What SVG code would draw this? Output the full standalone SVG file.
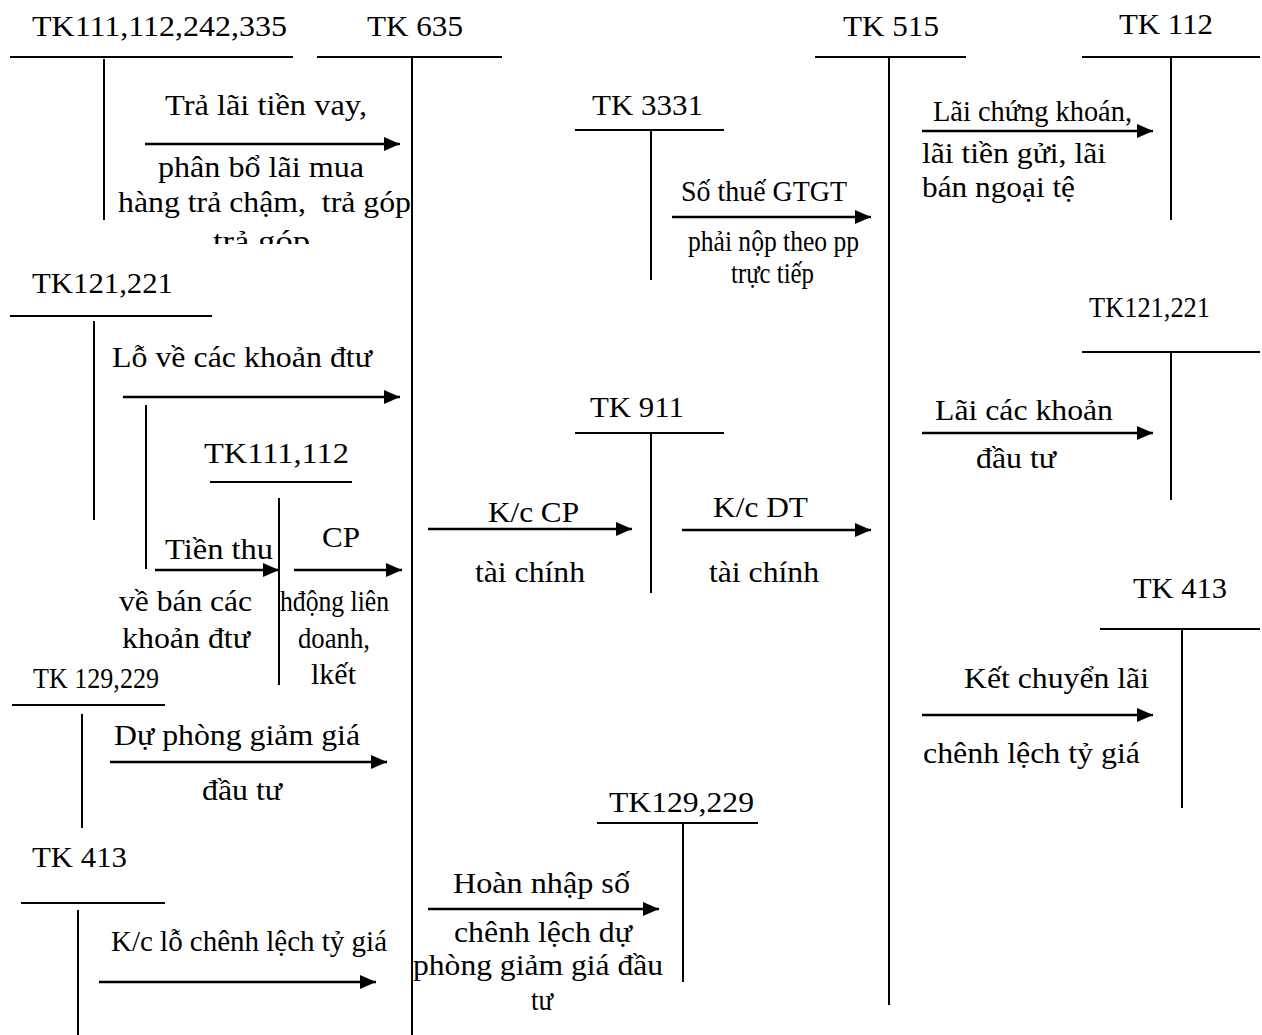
<svg xmlns="http://www.w3.org/2000/svg" width="1262" height="1035" viewBox="0 0 1262 1035">
<style>
text{font-family:"Liberation Serif","Times New Roman",serif;font-size:29px;fill:#000}
.t line{stroke:#000;stroke-width:2}
.c line{stroke:#000;stroke-width:2.6}
</style>
<defs>
<marker id="ah" markerUnits="userSpaceOnUse" markerWidth="16" markerHeight="14" refX="16" refY="7" orient="auto">
<path d="M0,0 L16,7 L0,14 z" fill="#000"/>
</marker>
<clipPath id="clip1"><rect x="100" y="0" width="400" height="244"/></clipPath>
</defs>
<rect width="1262" height="1035" fill="#fff"/>

<g id="tk111-112-242-335" class="t">
<text x="32" y="36" textLength="255" lengthAdjust="spacingAndGlyphs">TK111,112,242,335</text>
<line x1="10" y1="57" x2="293" y2="57"/>
<line x1="104" y1="59" x2="104" y2="220"/>
</g>
<g id="tk635" class="t">
<text x="367" y="36" textLength="96" lengthAdjust="spacingAndGlyphs">TK 635</text>
<line x1="317" y1="57" x2="502" y2="57"/>
<line x1="412" y1="58" x2="412" y2="1035"/>
</g>
<g id="tk3331" class="t">
<text x="592" y="115" textLength="111" lengthAdjust="spacingAndGlyphs">TK 3331</text>
<line x1="575" y1="130" x2="724" y2="130"/>
<line x1="651" y1="131" x2="651" y2="280"/>
</g>
<g id="tk515" class="t">
<text x="843" y="36" textLength="96" lengthAdjust="spacingAndGlyphs">TK 515</text>
<line x1="815" y1="57" x2="966" y2="57"/>
<line x1="889" y1="58" x2="889" y2="1005"/>
</g>
<g id="tk112-right" class="t">
<text x="1119" y="34" textLength="94" lengthAdjust="spacingAndGlyphs">TK 112</text>
<line x1="1082" y1="57" x2="1260" y2="57"/>
<line x1="1171" y1="58" x2="1171" y2="220"/>
</g>
<g id="tk121-221-left" class="t">
<text x="32" y="293" textLength="141" lengthAdjust="spacingAndGlyphs">TK121,221</text>
<line x1="10" y1="316" x2="212" y2="316"/>
<line x1="94" y1="321" x2="94" y2="520"/>
<line x1="146" y1="405" x2="146" y2="569"/>
</g>
<g id="tk111-112-mid" class="t">
<text x="204" y="463" textLength="145" lengthAdjust="spacingAndGlyphs">TK111,112</text>
<line x1="210" y1="482" x2="352" y2="482"/>
<line x1="279" y1="498" x2="279" y2="685"/>
</g>
<g id="tk911" class="t">
<text x="590" y="417" textLength="94" lengthAdjust="spacingAndGlyphs">TK 911</text>
<line x1="575" y1="433" x2="724" y2="433"/>
<line x1="651" y1="434" x2="651" y2="593"/>
</g>
<g id="tk121-221-right" class="t">
<text x="1089" y="317" textLength="121" lengthAdjust="spacingAndGlyphs">TK121,221</text>
<line x1="1082" y1="352" x2="1260" y2="352"/>
<line x1="1171" y1="353" x2="1171" y2="500"/>
</g>
<g id="tk413-right" class="t">
<text x="1133" y="598" textLength="94" lengthAdjust="spacingAndGlyphs">TK 413</text>
<line x1="1100" y1="629" x2="1260" y2="629"/>
<line x1="1182" y1="630" x2="1182" y2="808"/>
</g>
<g id="tk129-229-left" class="t">
<text x="33" y="688" textLength="126" lengthAdjust="spacingAndGlyphs">TK 129,229</text>
<line x1="12" y1="705" x2="165" y2="705"/>
<line x1="82" y1="714" x2="82" y2="828"/>
</g>
<g id="tk413-left" class="t">
<text x="32" y="867" textLength="95" lengthAdjust="spacingAndGlyphs">TK 413</text>
<line x1="21" y1="903" x2="165" y2="903"/>
<line x1="78" y1="910" x2="78" y2="1035"/>
</g>
<g id="tk129-229-mid" class="t">
<text x="609" y="812" textLength="145" lengthAdjust="spacingAndGlyphs">TK129,229</text>
<line x1="597" y1="823" x2="758" y2="823"/>
<line x1="683" y1="824" x2="683" y2="982"/>
</g>

<g id="connectors" class="c">
<line x1="145" y1="144" x2="400" y2="144" marker-end="url(#ah)"/>
<line x1="672" y1="217" x2="871" y2="217" marker-end="url(#ah)"/>
<line x1="922" y1="131" x2="1153" y2="131" marker-end="url(#ah)"/>
<line x1="123" y1="397" x2="400" y2="397" marker-end="url(#ah)"/>
<line x1="155" y1="570" x2="279" y2="570" marker-end="url(#ah)"/>
<line x1="294" y1="570" x2="402" y2="570" marker-end="url(#ah)"/>
<line x1="428" y1="529" x2="632" y2="529" marker-end="url(#ah)"/>
<line x1="682" y1="530" x2="871" y2="530" marker-end="url(#ah)"/>
<line x1="922" y1="433" x2="1153" y2="433" marker-end="url(#ah)"/>
<line x1="922" y1="715" x2="1153" y2="715" marker-end="url(#ah)"/>
<line x1="110" y1="762" x2="387" y2="762" marker-end="url(#ah)"/>
<line x1="99" y1="982" x2="376" y2="982" marker-end="url(#ah)"/>
<line x1="428" y1="909" x2="659" y2="909" marker-end="url(#ah)"/>
</g>

<g id="labels">
<text x="165" y="115" textLength="202" lengthAdjust="spacingAndGlyphs">Trả lãi tiền vay,</text>
<text x="158" y="177" textLength="206" lengthAdjust="spacingAndGlyphs">phân bổ lãi mua</text>
<text x="118" y="212" textLength="293" lengthAdjust="spacingAndGlyphs" xml:space="preserve">hàng trả chậm,  trả góp</text>
<text x="213" y="251" textLength="97" lengthAdjust="spacingAndGlyphs" clip-path="url(#clip1)">trả góp</text>
<text x="681" y="201" textLength="166" lengthAdjust="spacingAndGlyphs">Số thuế GTGT</text>
<text x="688" y="251" textLength="171" lengthAdjust="spacingAndGlyphs">phải nộp theo pp</text>
<text x="731" y="283" textLength="83" lengthAdjust="spacingAndGlyphs">trực tiếp</text>
<text x="933" y="121" textLength="199" lengthAdjust="spacingAndGlyphs">Lãi chứng khoán,</text>
<text x="922" y="163" textLength="184" lengthAdjust="spacingAndGlyphs">lãi tiền gửi, lãi</text>
<text x="922" y="197" textLength="153" lengthAdjust="spacingAndGlyphs">bán ngoại tệ</text>
<text x="112" y="367" textLength="260" lengthAdjust="spacingAndGlyphs">Lỗ về các khoản đtư</text>
<text x="165" y="559" textLength="108" lengthAdjust="spacingAndGlyphs">Tiền thu</text>
<text x="322" y="547" textLength="38" lengthAdjust="spacingAndGlyphs">CP</text>
<text x="119" y="611" textLength="133" lengthAdjust="spacingAndGlyphs">về bán các</text>
<text x="122" y="648" textLength="128" lengthAdjust="spacingAndGlyphs">khoản đtư</text>
<text x="280" y="611" textLength="109" lengthAdjust="spacingAndGlyphs">hđộng liên</text>
<text x="298" y="648" textLength="72" lengthAdjust="spacingAndGlyphs">doanh,</text>
<text x="311" y="684" textLength="45" lengthAdjust="spacingAndGlyphs">lkết</text>
<text x="488" y="522" textLength="91" lengthAdjust="spacingAndGlyphs">K/c CP</text>
<text x="475" y="582" textLength="110" lengthAdjust="spacingAndGlyphs">tài chính</text>
<text x="713" y="517" textLength="95" lengthAdjust="spacingAndGlyphs">K/c DT</text>
<text x="709" y="582" textLength="110" lengthAdjust="spacingAndGlyphs">tài chính</text>
<text x="935" y="420" textLength="178" lengthAdjust="spacingAndGlyphs">Lãi các khoản</text>
<text x="976" y="468" textLength="80" lengthAdjust="spacingAndGlyphs">đầu tư</text>
<text x="964" y="688" textLength="185" lengthAdjust="spacingAndGlyphs">Kết chuyển lãi</text>
<text x="923" y="763" textLength="217" lengthAdjust="spacingAndGlyphs">chênh lệch tỷ giá</text>
<text x="114" y="745" textLength="246" lengthAdjust="spacingAndGlyphs">Dự phòng giảm giá</text>
<text x="202" y="800" textLength="80" lengthAdjust="spacingAndGlyphs">đầu tư</text>
<text x="111" y="951" textLength="276" lengthAdjust="spacingAndGlyphs">K/c lỗ chênh lệch tỷ giá</text>
<text x="453" y="893" textLength="177" lengthAdjust="spacingAndGlyphs">Hoàn nhập số</text>
<text x="454" y="942" textLength="178" lengthAdjust="spacingAndGlyphs">chênh lệch dự</text>
<text x="413" y="975" textLength="250" lengthAdjust="spacingAndGlyphs">phòng giảm giá đầu</text>
<text x="531" y="1010" textLength="22" lengthAdjust="spacingAndGlyphs">tư</text>
</g>
</svg>
